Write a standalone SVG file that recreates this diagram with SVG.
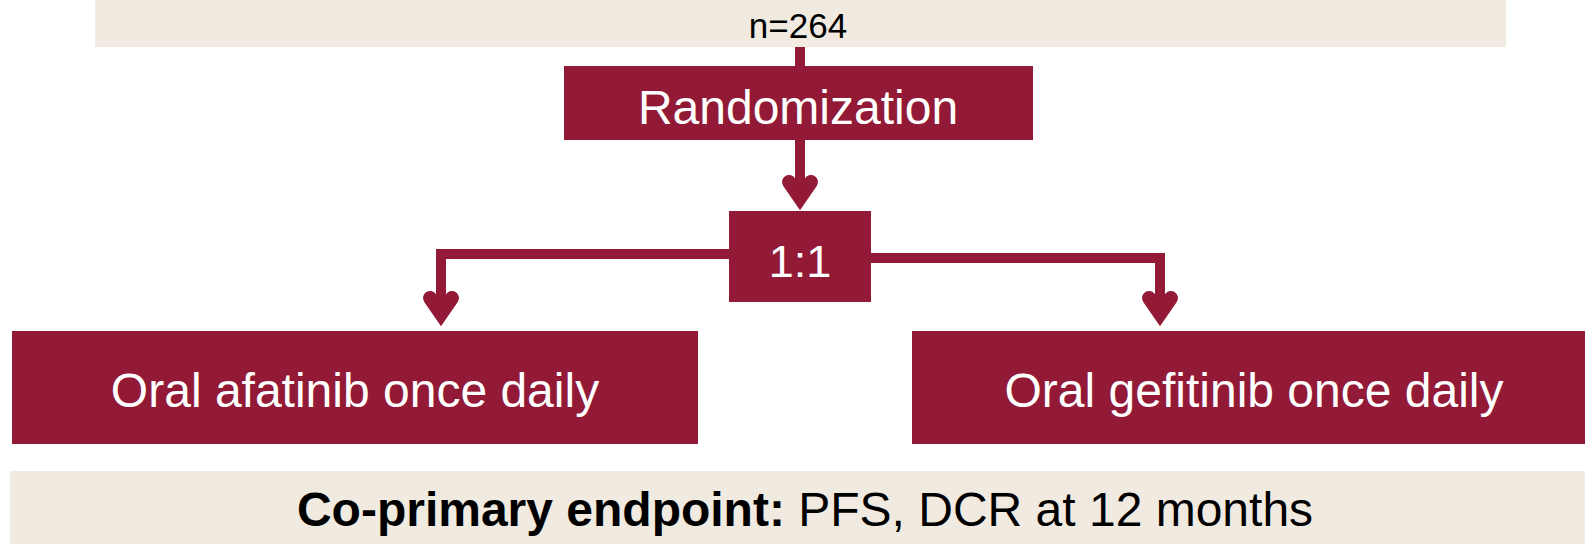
<svg xmlns="http://www.w3.org/2000/svg" xmlns:xlink="http://www.w3.org/1999/xlink" width="1585" height="544" viewBox="0 0 1585 544">
  <style>
    .band { fill: #F0EAE0; }
    .box { fill: #921A37; }
    .lbl { font-family: "Liberation Sans", Arial, sans-serif; fill: #FFFFFF; text-anchor: middle; }
    .dark { font-family: "Liberation Sans", Arial, sans-serif; fill: #000000; text-anchor: middle; }
    .line { fill: none; stroke: #921A37; stroke-width: 10; stroke-linejoin: miter; }
    .head { fill: #921A37; stroke: #921A37; stroke-width: 14; stroke-linecap: round; stroke-linejoin: miter; stroke-miterlimit: 4; }
  </style>
  <defs>
    <!-- chevron arrowhead, tip at origin -->
    <polyline id="arrowhead" class="head" points="-11,-28 0,-12 11,-28"/>
  </defs>

  <g id="population">
    <rect class="band" x="95" y="0" width="1411" height="47"/>
    <text class="dark" x="798" y="38" font-size="35">n=264</text>
  </g>

  <g id="connectors">
    <line class="line" x1="800" y1="47" x2="800" y2="66"/>
    <line class="line" x1="800" y1="140" x2="800" y2="196"/>
    <use xlink:href="#arrowhead" x="800" y="210"/>
    <path class="line" d="M729,254 H441 V312"/>
    <use xlink:href="#arrowhead" x="441" y="326"/>
    <path class="line" d="M871,258 H1160 V312"/>
    <use xlink:href="#arrowhead" x="1160" y="326"/>
  </g>

  <g id="randomization">
    <rect class="box" x="564" y="66" width="469" height="74"/>
    <text class="lbl" x="798" y="124" font-size="48">Randomization</text>
  </g>

  <g id="ratio">
    <rect class="box" x="729" y="211" width="142" height="91"/>
    <text class="lbl" x="800" y="277" font-size="45">1:1</text>
  </g>

  <g id="afatinib">
    <rect class="box" x="12" y="331" width="686" height="113"/>
    <text class="lbl" x="355" y="407" font-size="48">Oral afatinib once daily</text>
  </g>

  <g id="gefitinib">
    <rect class="box" x="912" y="331" width="673" height="113"/>
    <text class="lbl" x="1254" y="407" font-size="48">Oral gefitinib once daily</text>
  </g>

  <g id="endpoint">
    <rect class="band" x="10" y="471" width="1575" height="73"/>
    <text class="dark" x="805" y="526" font-size="48"><tspan font-weight="bold">Co-primary endpoint:</tspan> PFS, DCR at 12 months</text>
  </g>
</svg>
